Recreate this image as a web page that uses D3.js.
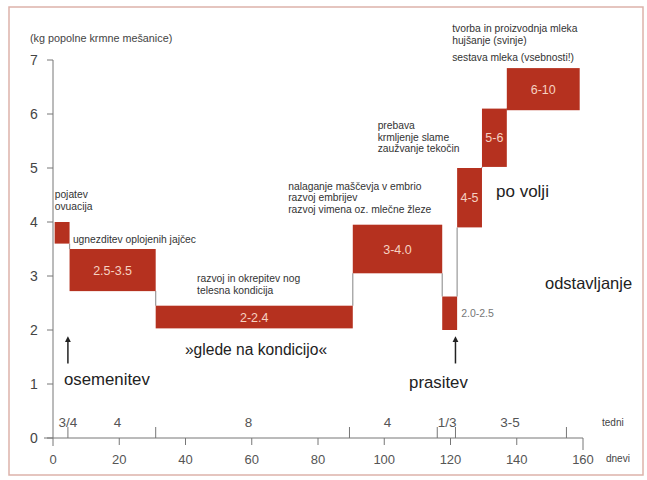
<!DOCTYPE html>
<html>
<head>
<meta charset="utf-8">
<script src="https://cdn.jsdelivr.net/npm/d3@7"></script>
<style>
  body { margin: 0; background: #fff; }
  text { font-family: "Liberation Sans", Arial, sans-serif; }
</style>
</head>
<body>
<script>
// feeding phases: day range and kg range
const barStart = [0.5, 5, 31, 90.5, 117.5, 122, 129.5, 137];
const barEnd = [5, 31, 90.5, 117.5, 122, 129.5, 137, 159];
const barLow = [3.6, 2.72, 2.03, 3.05, 2.0, 3.9, 5.02, 6.07];
const barHigh = [4.0, 3.5, 2.45, 3.95, 2.62, 5.0, 6.1, 6.85];
const barLabels = ["", "2.5-3.5", "2-2.4", "3-4.0", "", "4-5", "5-6", "6-10"];

const yTicks = [0, 1, 2, 3, 4, 5, 6, 7];
const dayTicks = [20, 40, 60, 80, 100, 120, 140, 160];
const dayLabels = [0, 20, 40, 60, 80, 100, 120, 140, 160];
const weekTicks = [4.5, 31, 89.5, 116, 121.5, 155];
const weekLabels = ["3/4", "4", "8", "4", "1/3", "3-5"];
const weekLabelDays = [4.5, 19.5, 59, 101, 119, 138];

const events = ["osemenitev", "prasitev"];
const eventDays = [4.5, 121.5];

// notes: [text lines, day, kg of first line]
const notes = [
  { lines: ["pojatev", "ovuacija"], day: 0.5, kg: 4.44 },
  { lines: ["ugnezditev oplojenih jajčec"], day: 6, kg: 3.62 },
  { lines: ["razvoj in okrepitev nog", "telesna kondicija"], day: 43.5, kg: 2.88 },
  { lines: ["nalaganje maščevja v embrio", "razvoj embrijev", "razvoj vimena oz. mlečne žleze"], day: 71, kg: 4.6 },
  { lines: ["prebava", "krmljenje slame", "zaužvanje tekočin"], day: 98, kg: 5.72 },
  { lines: ["tvorba in proizvodnja mleka", "hujšanje (svinje)"], day: 120.5, kg: 7.51 },
  { lines: ["sestava mleka (vsebnosti!)"], day: 120.5, kg: 6.99 }
];

const width = 647, height = 480;

const svg = d3.select("body")
  .append("svg")
  .attr("width", width)
  .attr("height", height);

// frame around the picture
svg.append("rect")
  .attr("x", 9).attr("y", 7)
  .attr("width", 634).attr("height", 468)
  .attr("fill", "none")
  .attr("stroke", "#ddb2aa")
  .attr("stroke-width", 1.5);

const x = d3.scaleLinear().domain([0, 160]).range([53, 583]);
const y = d3.scaleLinear().domain([0, 7]).range([438, 60]);

const axisColor = "#777";

// y axis
svg.append("line")
  .attr("x1", x(0)).attr("x2", x(0))
  .attr("y1", y(7)).attr("y2", y(0) + 8)
  .attr("stroke", axisColor);
svg.selectAll(".ytick")
  .data(yTicks)
  .enter().append("line")
  .attr("x1", x(0) - 6).attr("x2", x(0))
  .attr("y1", d => y(d)).attr("y2", d => y(d))
  .attr("stroke", axisColor);
svg.selectAll(".ylab")
  .data(yTicks)
  .enter().append("text")
  .attr("x", 34).attr("y", d => y(d) + 5)
  .attr("text-anchor", "middle")
  .attr("font-size", 14)
  .attr("fill", "#444")
  .text(d => d);

svg.append("text")
  .attr("x", 30).attr("y", 42)
  .attr("font-size", 10.8)
  .attr("fill", "#444")
  .text("(kg popolne krmne mešanice)");

// x axis
svg.append("line")
  .attr("x1", x(0) - 9).attr("x2", x(160))
  .attr("y1", y(0)).attr("y2", y(0))
  .attr("stroke", axisColor);
svg.selectAll(".dtick")
  .data(dayTicks)
  .enter().append("line")
  .attr("x1", d => x(d)).attr("x2", d => x(d))
  .attr("y1", y(0)).attr("y2", d => y(0) + (d === 160 ? 12 : 7))
  .attr("stroke", axisColor);
svg.selectAll(".dlab")
  .data(dayLabels)
  .enter().append("text")
  .attr("x", d => x(d)).attr("y", y(0) + 26)
  .attr("text-anchor", "middle")
  .attr("font-size", 13)
  .attr("fill", "#555")
  .text(d => d);
svg.selectAll(".wtick")
  .data(weekTicks)
  .enter().append("line")
  .attr("x1", d => x(d)).attr("x2", d => x(d))
  .attr("y1", y(0) - 11).attr("y2", y(0))
  .attr("stroke", axisColor);
svg.selectAll(".wlab")
  .data(weekLabels)
  .enter().append("text")
  .attr("x", (d, i) => x(weekLabelDays[i])).attr("y", y(0) - 11)
  .attr("text-anchor", "middle")
  .attr("font-size", 13.5)
  .attr("fill", "#555")
  .text(d => d);
svg.append("text")
  .attr("x", 602).attr("y", 426)
  .attr("font-size", 10).attr("fill", "#444")
  .text("tedni");
svg.append("text")
  .attr("x", 606).attr("y", 462)
  .attr("font-size", 10).attr("fill", "#444")
  .text("dnevi");

// gray connectors between consecutive phases
const joins = d3.range(barStart.length - 1).map(i => ({
  day: barEnd[i],
  lo: Math.min(barHigh[i], barHigh[i + 1]),
  hi: Math.max(barLow[i], barLow[i + 1])
}));
svg.selectAll(".join")
  .data(joins)
  .enter().append("line")
  .attr("x1", d => x(d.day)).attr("x2", d => x(d.day))
  .attr("y1", d => y(d.lo)).attr("y2", d => y(d.hi))
  .attr("stroke", "#999")
  .attr("stroke-width", 1.2);

// bars
const barColor = "#b5311f";
svg.selectAll(".bar")
  .data(barStart)
  .enter().append("rect")
  .attr("x", d => x(d))
  .attr("width", (d, i) => x(barEnd[i]) - x(d))
  .attr("y", (d, i) => y(barHigh[i]))
  .attr("height", (d, i) => y(barLow[i]) - y(barHigh[i]))
  .attr("fill", barColor);
svg.selectAll(".barlab")
  .data(barLabels)
  .enter().append("text")
  .attr("x", (d, i) => (x(barStart[i]) + x(barEnd[i])) / 2)
  .attr("y", (d, i) => (y(barLow[i]) + y(barHigh[i])) / 2 + 4.5)
  .attr("text-anchor", "middle")
  .attr("font-size", 12.5)
  .attr("fill", "#f6d2c2")
  .text(d => d);

// kg range of the farrowing bar, written beside it
svg.append("text")
  .attr("x", x(barEnd[4]) + 4)
  .attr("y", (y(barLow[4]) + y(barHigh[4])) / 2 + 4)
  .attr("font-size", 10.5)
  .attr("fill", "#777")
  .text("2.0-2.5");

// small notes
notes.forEach(n => {
  const t = svg.append("text")
    .attr("x", x(n.day)).attr("y", y(n.kg))
    .attr("font-size", 10.3)
    .attr("fill", "#333");
  n.lines.forEach((l, j) => {
    t.append("tspan")
      .attr("x", x(n.day))
      .attr("dy", j === 0 ? 0 : 11.5)
      .text(l);
  });
});

// events with arrows
svg.append("defs").append("marker")
  .attr("id", "head")
  .attr("viewBox", "0 0 10 10")
  .attr("refX", 5).attr("refY", 5)
  .attr("markerWidth", 4).attr("markerHeight", 5)
  .attr("orient", "auto")
  .append("path")
  .attr("d", "M0,0L10,5L0,10Z")
  .attr("fill", "#222");
svg.selectAll(".arrow")
  .data(eventDays)
  .enter().append("line")
  .attr("x1", d => x(d)).attr("x2", d => x(d))
  .attr("y1", y(1.38)).attr("y2", y(1.83))
  .attr("stroke", "#222")
  .attr("stroke-width", 1.5)
  .attr("marker-end", "url(#head)");
svg.append("text")
  .attr("x", 64).attr("y", 385)
  .attr("font-size", 16.8).attr("fill", "#222")
  .text(events[0]);
svg.append("text")
  .attr("x", x(eventDays[1]) - 17).attr("y", 388)
  .attr("text-anchor", "middle")
  .attr("font-size", 16.8).attr("fill", "#222")
  .text(events[1]);

// large captions
svg.append("text")
  .attr("x", 256).attr("y", 355)
  .attr("text-anchor", "middle")
  .attr("font-size", 15.6).attr("fill", "#222")
  .text("»glede na kondicijo«");
svg.append("text")
  .attr("x", 496).attr("y", 197)
  .attr("font-size", 17).attr("fill", "#222")
  .text("po volji");
svg.append("text")
  .attr("x", 545).attr("y", 289)
  .attr("font-size", 16.5).attr("fill", "#222")
  .text("odstavljanje");
</script>
</body>
</html>
